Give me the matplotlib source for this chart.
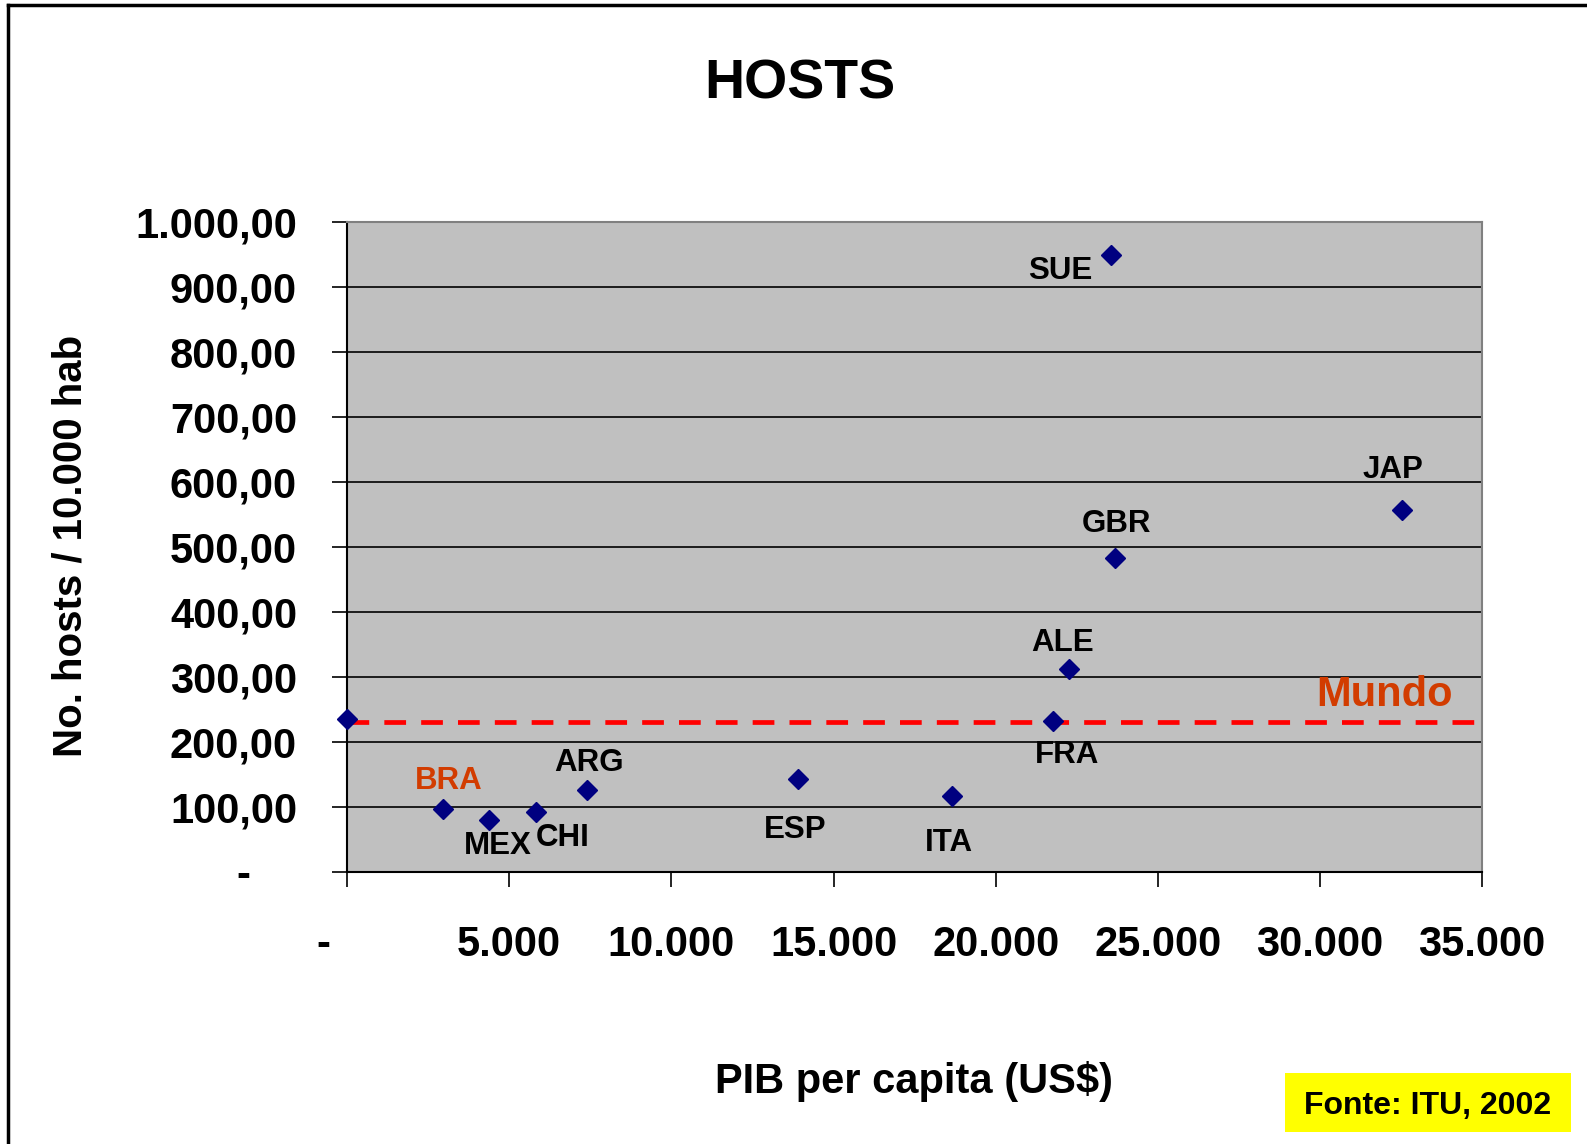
import numpy as np
import matplotlib
matplotlib.use('Agg')
import matplotlib.pyplot as plt
from matplotlib.lines import Line2D
from matplotlib.patches import Rectangle

plt.rcParams['font.family'] = ['Liberation Sans', 'DejaVu Sans']
plt.rcParams['font.weight'] = 'bold'

# data
countries = ['BRA', 'MEX', 'CHI', 'ARG', 'ESP', 'ITA', 'FRA', 'ALE', 'SUE', 'GBR', 'JAP']
pib = [2970, 4370, 5840, 7400, 13890, 18640, 21760, 22260, 23570, 23670, 32530]
hosts = [96.6, 79.4, 91.9, 126.2, 143.3, 116.8, 232.0, 313.0, 948.6, 482.9, 557.6]
mundo_pib = 0
mundo_point = 236.0
mundo_line = 230.0

yticks = np.arange(0, 1001, 100)
ytick_labels = ['-    '] + ['100,00', '200,00', '300,00', '400,00', '500,00',
                              '600,00', '700,00', '800,00', '900,00', '1.000,00']
xticks = np.arange(0, 35001, 5000)
xtick_labels = ['-    ', '5.000', '10.000', '15.000', '20.000', '25.000', '30.000', '35.000']

# label offsets in pixels (style only)
offsets = {'BRA': (5, 28), 'MEX': (9, -26), 'CHI': (26, -26), 'ARG': (2, 27),
           'ESP': (-2, -51), 'ITA': (-3, -47), 'FRA': (14, -34), 'ALE': (-6, 26),
           'SUE': (-51, -16), 'GBR': (2, 34), 'JAP': (-9, 40)}

orange = '#D23C00'

fig = plt.figure(figsize=(15.87, 11.44), dpi=100)
ax = fig.add_axes([0.2187, 0.2378, 0.7152, 0.5682])
ax.set_facecolor('#C0C0C0')

for y in yticks[1:-1]:
    ax.axhline(y, color='black', lw=1.2, zorder=1)

ax.axhline(mundo_line, color='#FF0000', lw=3.4, linestyle=(0, (4.6, 3.2)), zorder=2)

ax.plot(pib, hosts, linestyle='none', marker='D', ms=10, color='#000080', zorder=3, clip_on=False)
ax.plot([mundo_pib], [mundo_point], linestyle='none', marker='D', ms=10, color='#000080',
        zorder=3, clip_on=False)

for c, x, y in zip(countries, pib, hosts):
    ax.annotate(c, (x, y), xytext=offsets[c], textcoords='offset pixels',
                ha='center', va='center', fontsize=22.5, fontweight='bold',
                color=orange if c == 'BRA' else 'black', zorder=4)

ax.text(32000, 273, 'Mundo', ha='center', va='center', fontsize=30,
        fontweight='bold', color=orange)

ax.set_xlim(0, 35000)
ax.set_ylim(0, 1000)
ax.set_xticks(xticks)
ax.set_xticklabels(xtick_labels)
ax.set_yticks(yticks)
ax.set_yticklabels(ytick_labels)
ax.tick_params(axis='both', direction='out', length=11, width=1.2, labelsize=30, color='black')
ax.tick_params(axis='x', pad=27)
ax.tick_params(axis='y', pad=25)
for lab in ax.get_xticklabels() + ax.get_yticklabels():
    lab.set_fontweight('bold')

for s in ['top', 'right']:
    ax.spines[s].set_color('#808080')
    ax.spines[s].set_linewidth(1.5)
for s in ['left', 'bottom']:
    ax.spines[s].set_color('black')
    ax.spines[s].set_linewidth(1.5)

fig.text(0.504, 0.926, 'HOSTS', ha='center', va='center', fontsize=40, fontweight='bold')
fig.text(0.0447, 0.523, 'No. hosts / 10.000 hab', ha='center', va='center',
         rotation=90, fontsize=29, fontweight='bold')
fig.text(0.576, 0.055, 'PIB per capita (US$)', ha='center', va='center',
         fontsize=30, fontweight='bold')

fig.patches.append(Rectangle((0.8097, 0.0105), 0.1802, 0.0516, transform=fig.transFigure,
                             facecolor='#FFFF00', edgecolor='none'))
fig.text(0.8997, 0.0335, 'Fonte: ITU, 2002', ha='center', va='center',
         fontsize=23, fontweight='bold')

# outer frame (top and left only visible)
fig.add_artist(Line2D([0.005, 1.0], [0.9955, 0.9955], transform=fig.transFigure,
                      color='black', lw=2.5))
fig.add_artist(Line2D([0.005, 0.005], [0.0, 0.9955], transform=fig.transFigure,
                      color='black', lw=2.5))

fig.savefig('out.png', dpi=100)
